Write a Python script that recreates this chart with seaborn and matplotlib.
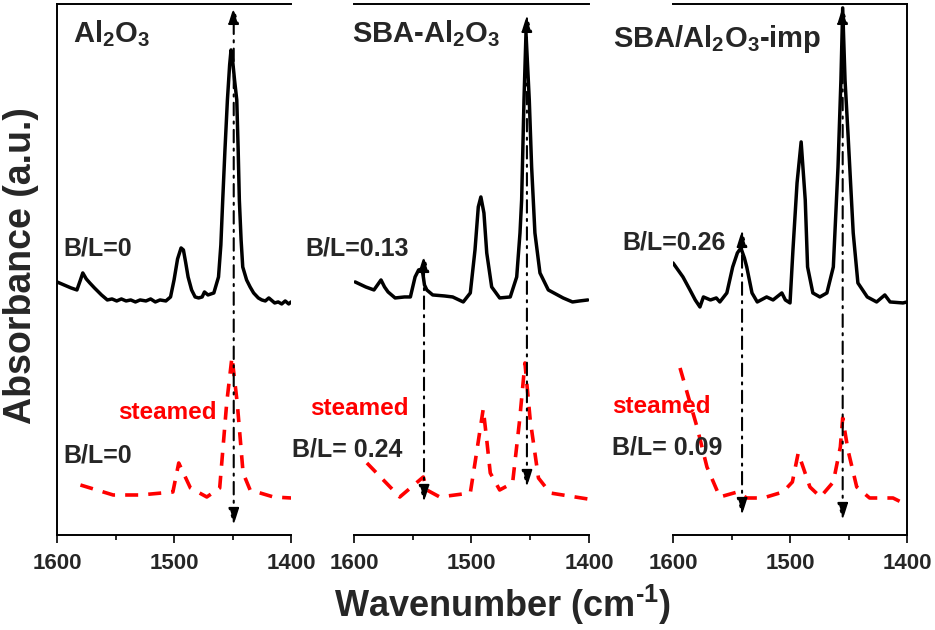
import matplotlib
matplotlib.use("Agg")

import matplotlib.pyplot as plt
import pandas as pd
import seaborn as sns


# fresh samples (black, solid)
wn_al = [1600, 1594, 1588, 1583, 1580, 1578, 1575, 1572, 1568, 1562, 1557, 1553,
         1549, 1545, 1541, 1537, 1533, 1529, 1524, 1520, 1516, 1512, 1507, 1503,
         1500, 1497, 1494, 1492, 1490, 1488, 1485, 1482, 1479, 1476, 1474, 1471,
         1466, 1462, 1460, 1458.4, 1456.5, 1454.4, 1452.5, 1451.3, 1450, 1448.3,
         1446.4, 1445.2, 1444.2, 1442.7, 1441.3, 1438, 1435, 1432, 1428, 1425,
         1422, 1419, 1417, 1414, 1411, 1408, 1405, 1402, 1400]
ab_al = [2.53, 2.50, 2.47, 2.45, 2.55, 2.62, 2.56, 2.52, 2.47, 2.40, 2.35, 2.36,
         2.34, 2.36, 2.34, 2.35, 2.33, 2.35, 2.34, 2.36, 2.33, 2.35, 2.34, 2.38,
         2.55, 2.76, 2.87, 2.85, 2.72, 2.58, 2.45, 2.38, 2.37, 2.38, 2.43, 2.40,
         2.42, 2.58, 2.90, 3.35, 3.85, 4.35, 4.70, 4.85, 4.75, 4.55,
         4.35, 3.85, 3.35, 2.95, 2.68, 2.55, 2.48, 2.42, 2.37, 2.35,
         2.34, 2.37, 2.35, 2.32, 2.33, 2.31, 2.34, 2.31, 2.33]

wn_sba = [1599, 1590, 1583, 1580, 1577, 1574, 1571, 1565, 1557, 1552, 1548, 1545,
          1542, 1540, 1538, 1533, 1523, 1516, 1507, 1501, 1497, 1494.2, 1492,
          1489.4, 1487, 1482.8, 1476, 1467, 1461.5, 1458.7, 1457.3, 1455.3, 1453.6,
          1450.8, 1448.8, 1446, 1441.7, 1434.6, 1422, 1414, 1408, 1401]
ab_sba = [2.53, 2.48, 2.45, 2.50, 2.55, 2.48, 2.43, 2.37, 2.38, 2.38, 2.58, 2.65,
          2.66, 2.50, 2.45, 2.40, 2.39, 2.38, 2.33, 2.42, 2.85, 3.28, 3.38,
          3.22, 2.82, 2.48, 2.37, 2.38, 2.58, 3.02, 3.35, 4.35, 5.02,
          4.35, 3.68, 3.02, 2.62, 2.45, 2.37, 2.33, 2.34, 2.35]

wn_imp = [1600, 1591.5, 1585.5, 1581, 1577, 1574, 1568, 1563, 1560, 1554, 1549,
          1545, 1542, 1539, 1537, 1532.5, 1528, 1520, 1514.5, 1507, 1504, 1500,
          1497.5, 1494, 1490.5, 1487, 1485, 1480.5, 1474.5, 1468.5, 1463, 1459,
          1456.5, 1455, 1453, 1450.5, 1446, 1442, 1434, 1426, 1419, 1414.5,
          1403.5, 1400]
ab_imp = [2.72, 2.58, 2.45, 2.35, 2.28, 2.38, 2.35, 2.37, 2.33, 2.42, 2.68,
          2.82, 2.87, 2.77, 2.68, 2.42, 2.33, 2.38, 2.35, 2.42, 2.35, 2.32,
          2.85, 3.52, 3.93, 3.35, 2.68, 2.42, 2.38, 2.42, 2.68, 3.68,
          4.55, 5.27, 4.55, 4.02, 3.02, 2.52, 2.38, 2.33, 2.40, 2.33,
          2.32, 2.33]

# steamed samples (red, dashed)
wn_al_st = [1580, 1552, 1529, 1501, 1496, 1486, 1472, 1461, 1455, 1450.5, 1446,
            1441, 1435, 1415, 1400]
ab_al_st = [0.50, 0.40, 0.40, 0.43, 0.72, 0.47, 0.38, 0.47, 1.32, 1.78, 1.32,
            0.62, 0.45, 0.38, 0.37]

wn_sba_st = [1589, 1561, 1541, 1538, 1527, 1501, 1497, 1490, 1487, 1484, 1476,
             1465, 1459, 1454.5, 1450, 1443, 1433, 1401]
ab_sba_st = [0.72, 0.38, 0.58, 0.45, 0.38, 0.42, 0.72, 1.26, 0.95, 0.62, 0.45,
             0.52, 1.15, 1.72, 1.15, 0.57, 0.42, 0.36]

wn_imp_st = [1594, 1579.5, 1571, 1560, 1545, 1537, 1523, 1506, 1498, 1493, 1483,
             1474, 1463, 1457, 1455, 1450.5, 1443, 1432, 1412, 1400]
ab_imp_st = [1.67, 1.08, 0.68, 0.38, 0.43, 0.37, 0.37, 0.43, 0.53, 0.82, 0.48,
             0.38, 0.53, 0.88, 1.17, 0.85, 0.48, 0.37, 0.37, 0.30]

sample_names = ["Al$_2$O$_3$", "SBA-Al$_2$O$_3$", "SBA/Al$_2$O$_3$-imp"]
bl_fresh = ["B/L=0", "B/L=0.13", "B/L=0.26"]
bl_steamed = ["B/L=0", "B/L= 0.24", "B/L= 0.09"]

# arrows: (wavenumber, top, bottom)
arrows = [
    [(1449, 5.28, 0.10)],
    [(1540.4, 2.80, 0.33), (1452.8, 5.20, 0.48)],
    [(1541, 3.05, 0.20), (1455, 5.28, 0.15)],
]

fresh = [(wn_al, ab_al), (wn_sba, ab_sba), (wn_imp, ab_imp)]
steamed = [(wn_al_st, ab_al_st), (wn_sba_st, ab_sba_st), (wn_imp_st, ab_imp_st)]

sns.set_style("ticks")
plt.rcParams["font.family"] = ["Liberation Sans", "DejaVu Sans"]
plt.rcParams["font.weight"] = "bold"
plt.rcParams["mathtext.fontset"] = "custom"
plt.rcParams["mathtext.rm"] = "Liberation Sans:bold"
plt.rcParams["mathtext.bf"] = "Liberation Sans:bold"
plt.rcParams["mathtext.default"] = "bf"

fig = plt.figure(figsize=(9.35, 6.3), dpi=100)

# axes boxes in figure fraction
lefts = [0.0610, 0.3786, 0.7198]
widths = [0.2503, 0.2513, 0.2503]
bottom, height = 0.1508, 0.843

# text anchors in axes fraction (left, baseline)
title_pos = [(0.068, 0.928), (-0.009, 0.928), (-0.256, 0.919)]
bl_pos = [(0.026, 0.527), (-0.209, 0.527), (-0.218, 0.537)]
steam_pos = [(0.261, 0.218), (-0.187, 0.226), (-0.261, 0.230)]
bl2_pos = [(0.026, 0.137), (-0.264, 0.147), (-0.261, 0.151)]

for i in range(3):
    ax = fig.add_axes([lefts[i], bottom, widths[i], height])

    df_f = pd.DataFrame({"wn": fresh[i][0], "ab": fresh[i][1]})
    df_s = pd.DataFrame({"wn": steamed[i][0], "ab": steamed[i][1]})

    sns.lineplot(data=df_f, x="wn", y="ab", ax=ax, color="black",
                 linewidth=2.5, estimator=None, sort=False)
    sns.lineplot(data=df_s, x="wn", y="ab", ax=ax, color="#ff0000",
                 linewidth=2.6, linestyle=(0, (3.6, 2.8)), estimator=None, sort=False)

    for wn, top, bot in arrows[i]:
        ax.annotate("", xy=(wn, top), xytext=(wn, bot),
                    arrowprops=dict(arrowstyle="<|-|>,head_length=0.7,head_width=0.22",
                                    color="black", lw=1.5,
                                    linestyle=(0, (6, 3, 1, 3)),
                                    shrinkA=0, shrinkB=0, mutation_scale=14))

    ax.set_xlim(1600, 1400)
    ax.set_ylim(0, 5.31)
    ax.set_xticks([1600, 1500, 1400])
    ax.set_xticks([1550, 1450], minor=True)
    ax.set_yticks([])
    ax.set_xlabel("")
    ax.set_ylabel("")
    ax.tick_params(axis="x", which="major", direction="out", length=6, width=1.4,
                   labelsize=16, pad=7)
    ax.tick_params(axis="x", which="minor", direction="out", length=3.5, width=1.4)
    for lab in ax.get_xticklabels():
        lab.set_fontweight("bold")

    for side in ["left", "right", "top", "bottom"]:
        ax.spines[side].set_linewidth(1.4)
        ax.spines[side].set_color("black")
    ax.spines["left"].set_visible(i == 0)
    ax.spines["right"].set_visible(i == 2)

    ax.text(*title_pos[i], sample_names[i], transform=ax.transAxes,
            fontsize=21, fontweight="bold", va="baseline", ha="left")
    ax.text(*bl_pos[i], bl_fresh[i], transform=ax.transAxes,
            fontsize=18, fontweight="bold", va="baseline", ha="left")
    ax.text(*steam_pos[i], "steamed", transform=ax.transAxes, color="#ff0000",
            fontsize=17.5, fontweight="bold", va="baseline", ha="left")
    ax.text(*bl2_pos[i], bl_steamed[i], transform=ax.transAxes,
            fontsize=18, fontweight="bold", va="baseline", ha="left")

fig.text(0.022, 0.579, "Absorbance (a.u.)", rotation=90, ha="center", va="center",
         fontsize=27, fontweight="bold")
# U+2010 keeps a short hyphen instead of a math minus in the superscript
fig.text(0.538, 0.040, "Wavenumber (cm$^{\u20101}$)",
         ha="center", va="center", fontsize=26, fontweight="bold")

fig.savefig("out.png", dpi=100)
